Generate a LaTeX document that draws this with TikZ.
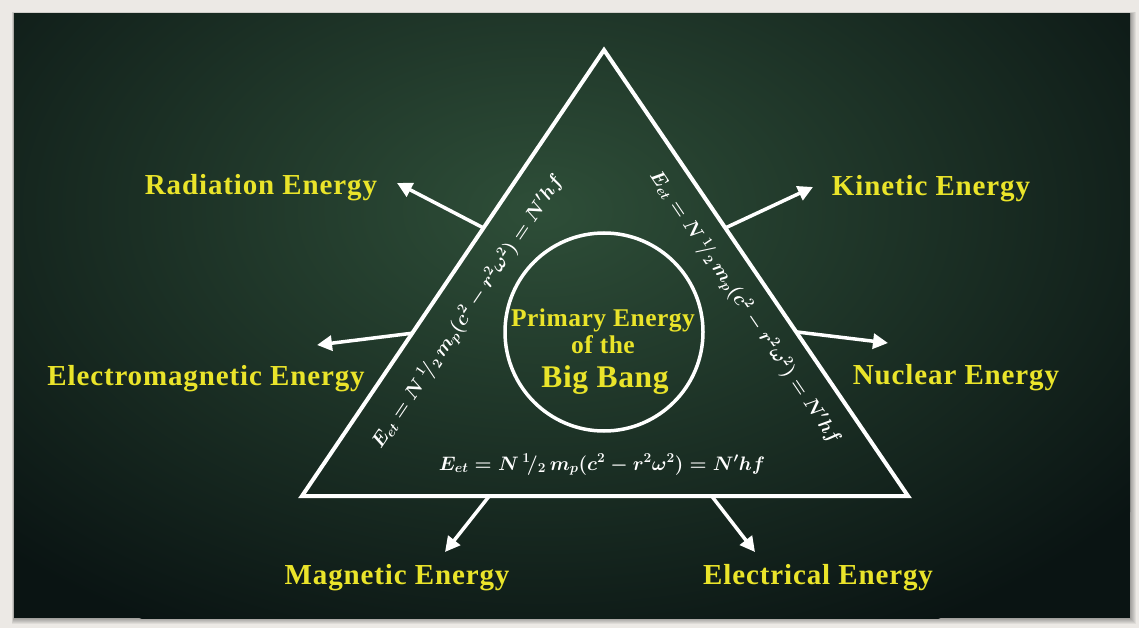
\RequirePackage{fix-cm}
\documentclass[tikz,border=0pt]{standalone}
\usepackage{amsmath}
\usepackage{fontspec}
\setmainfont{Liberation Serif}
\usetikzlibrary{arrows.meta,calc}
\definecolor{paper}{RGB}{236,233,229}
\definecolor{boarddark}{RGB}{10,20,19}
\definecolor{boardlight}{RGB}{46,78,56}
\definecolor{chalkyellow}{RGB}{234,228,42}
\tikzset{
  energy/.style={text=chalkyellow,anchor=base,inner sep=0pt,
    font=\bfseries\fontsize{29}{32}\selectfont\addfontfeature{LetterSpace=3}},
  core/.style={text=chalkyellow,anchor=base,inner sep=0pt,
    font=\bfseries\fontsize{25.5}{28}\selectfont\addfontfeature{LetterSpace=2}},
  formula/.style={text=white,inner sep=0pt,
    font=\fontsize{19.5}{23}\selectfont\boldmath},
  chalk/.style={draw=white,line width=4pt},
  ray/.style={draw=white,line width=3.5pt,-{Triangle[length=15pt,width=15pt]}},
}
\begin{document}
\begin{tikzpicture}
[x=1pt,y=-1pt]
% board and frame
\fill[paper] (0,0) rectangle (1139,628);
\useasboundingbox (0,0) rectangle (1139,628);
\foreach \i in {1,...,6}
  \fill[black,opacity=0.06] (14-\i/3,14-\i/3) rectangle (1130+\i,618+\i);
\fill[boarddark] (14,14) rectangle (1130,618);
\begin{scope}
\clip (14,14) rectangle (1130,618);
\shade[inner color=boardlight,outer color=boarddark] (540,210) ellipse [x radius=760pt,y radius=480pt];
\end{scope}
% triangle and circle
\coordinate (top) at (604,50);
\coordinate (left) at (302,496);
\coordinate (right) at (908,496);
\draw[chalk,line join=miter] (top) -- (left) -- (right) -- cycle;
\draw[white,line width=3.5pt] (604,332) circle [radius=99pt];
\node[core] (prim) at (603,326) {Primary Energy};
\node[core] (ofthe) at (603,353) {of the};
\node[core,font=\bfseries\fontsize{31.5}{34}\selectfont\addfontfeature{LetterSpace=2}] (bang) at (605,387) {Big Bang};
% formulas along the sides
\node[formula,rotate=55.9] (eqleft) at (468,312) {$E_{et} = N\,{}^{1}\!/_{2}\,m_p(c^2 - r^2\omega^2) = N'hf$};
\node[formula,rotate=-55.9] (eqright) at (745,308) {$E_{et} = N\,{}^{1}\!/_{2}\,m_p(c^2 - r^2\omega^2) = N'hf$};
\node[formula,anchor=base] (eqbottom) at (602,470) {$E_{et} = N\,{}^{1}\!/_{2}\,m_p(c^2 - r^2\omega^2) = N'hf$};
% forms of energy
\node[energy] (rad) at (261,195) {Radiation Energy};
\node[energy] (kin) at (931,196) {Kinetic Energy};
\node[energy] (em) at (206,385) {Electromagnetic Energy};
\node[energy] (nuc) at (956,384) {Nuclear Energy};
\node[energy] (mag) at (397,584) {Magnetic Energy};
\node[energy] (ele) at (818,584) {Electrical Energy};
% arrow ends
\coordinate (radtip) at (397,183);
\coordinate (kintip) at (813,187);
\coordinate (emtip) at (317,345);
\coordinate (nuctip) at (888,343);
\coordinate (magtip) at (445,552);
\coordinate (eletip) at (755,552);
\draw[ray] ($(top)!0.399!(left)$) -- (radtip);
\draw[ray] ($(top)!0.635!(left)$) -- (emtip);
\draw[ray] ($(top)!0.399!(right)$) -- (kintip);
\draw[ray] ($(top)!0.632!(right)$) -- (nuctip);
\draw[ray] ($(left)!0.309!(right)$) -- (magtip);
\draw[ray] ($(left)!0.676!(right)$) -- (eletip);
\end{tikzpicture}
\end{document}
